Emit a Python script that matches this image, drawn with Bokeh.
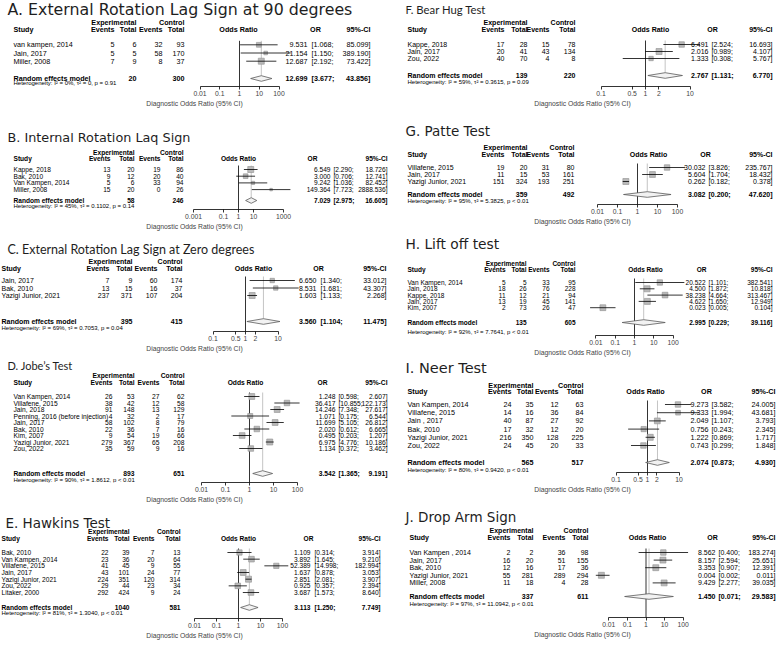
import math
from bokeh.plotting import figure
from bokeh.models import Range1d, LogScale, LogAxis, FixedTicker, CustomJSTickFormatter, ColumnDataSource
from bokeh.layouts import column, row
from bokeh.core.properties import value
from bokeh.embed import file_html
from bokeh.resources import INLINE

# ---------------- data ----------------
A_title = "A. External Rotation Lag Sign at 90 degrees"
A_study = ["van kampen, 2014", "Jain, 2017", "Miller, 2008"]
A_exp_ev = [5, 5, 7]
A_exp_n = [6, 5, 9]
A_ctl_ev = [32, 58, 8]
A_ctl_n = [93, 170, 37]
A_or = [9.531, 21.154, 12.687]
A_lo = [1.068, 1.150, 2.192]
A_hi = [85.099, 389.190, 73.422]
A_totals = [20, 300]
A_pooled = [12.699, 3.677, 43.856]
A_tau2 = 0.0
A_het = "Heterogeneity: I² = 0%, τ² = 0, p = 0.91"
A_ticks = [0.01, 0.1, 1, 10, 100]

B_title = "B. Internal Rotation Laq Sign"
B_study = ["Kappe, 2018", "Bak, 2010", "Van Kampen, 2014", "Miller, 2008"]
B_exp_ev = [13, 9, 5, 15]
B_exp_n = [20, 12, 6, 20]
B_ctl_ev = [19, 20, 33, 0]
B_ctl_n = [86, 40, 94, 26]
B_or = [6.549, 3.000, 9.242, 149.364]
B_lo = [2.290, 0.706, 1.036, 7.723]
B_hi = [18.726, 12.741, 82.452, 2888.536]
B_totals = [58, 246]
B_pooled = [7.029, 2.975, 16.605]
B_tau2 = 0.1102
B_het = "Heterogeneity: I² = 45%, τ² = 0.1102, p = 0.14"
B_ticks = [0.001, 0.1, 1, 10, 1000]

C_title = "C. External Rotation Lag Sign at Zero degrees"
C_study = ["Jain, 2017", "Bak, 2010", "Yazigi Junior, 2021"]
C_exp_ev = [7, 13, 237]
C_exp_n = [9, 15, 371]
C_ctl_ev = [60, 16, 107]
C_ctl_n = [174, 37, 204]
C_or = [6.650, 8.531, 1.603]
C_lo = [1.340, 1.681, 1.133]
C_hi = [33.012, 43.307, 2.268]
C_totals = [395, 415]
C_pooled = [3.560, 1.104, 11.475]
C_tau2 = 0.7053
C_het = "Heterogeneity: I² = 69%, τ² = 0.7053, p = 0.04"
C_ticks = [0.1, 0.5, 1, 2, 10]

D_title = "D. Jobe’s Test"
D_study = ["Van Kampen, 2014", "Villafene, 2015", "Jain, 2018", "Penning, 2016 (before injection)",
           "Jain, 2017", "Bak, 2010", "Kim, 2007", "Yazigi Junior, 2021", "Zou, 2022"]
D_exp_ev = [26, 38, 91, 4, 58, 22, 9, 279, 35]
D_exp_n = [53, 42, 148, 32, 102, 36, 54, 367, 59]
D_ctl_ev = [27, 12, 13, 2, 8, 7, 19, 65, 9]
D_ctl_n = [62, 58, 129, 17, 79, 16, 66, 208, 16]
D_or = [1.248, 36.417, 14.246, 1.071, 11.699, 2.020, 0.495, 6.975, 1.134]
D_lo = [0.598, 10.855, 7.348, 0.175, 5.105, 0.612, 0.203, 4.776, 0.372]
D_hi = [2.607, 122.173, 27.617, 6.544, 26.812, 6.665, 1.207, 10.186, 3.462]
D_totals = [893, 651]
D_pooled = [3.542, 1.365, 9.191]
D_tau2 = 1.8612
D_het = "Heterogeneity: I² = 90%, τ² = 1.8612, p < 0.01"
D_ticks = [0.01, 0.1, 1, 10, 100]

E_title = "E. Hawkins Test"
E_study = ["Bak, 2010", "Van Kampen, 2014", "Villafene, 2015", "Jain, 2017",
           "Yazigi Junior, 2021", "Zou, 2022", "Litaker, 2000"]
E_exp_ev = [22, 23, 41, 43, 224, 29, 292]
E_exp_n = [39, 36, 45, 101, 351, 44, 424]
E_ctl_ev = [7, 20, 9, 24, 120, 23, 9]
E_ctl_n = [13, 64, 55, 77, 314, 34, 24]
E_or = [1.109, 3.892, 52.389, 1.637, 2.851, 0.925, 3.687]
E_lo = [0.314, 1.645, 14.998, 0.878, 2.081, 0.357, 1.573]
E_hi = [3.914, 9.210, 182.994, 3.053, 3.907, 2.394, 8.640]
E_totals = [1040, 581]
E_pooled = [3.113, 1.250, 7.749]
E_tau2 = 1.3040
E_het = "Heterogeneity: I² = 81%, τ² = 1.3040, p < 0.01"
E_ticks = [0.01, 0.1, 1, 10, 100]

F_title = "F. Bear Hug Test"
F_study = ["Kappe, 2018", "Jain, 2017", "Zou, 2022"]
F_exp_ev = [17, 20, 40]
F_exp_n = [28, 41, 70]
F_ctl_ev = [15, 43, 4]
F_ctl_n = [78, 134, 8]
F_or = [6.491, 2.016, 1.333]
F_lo = [2.524, 0.989, 0.308]
F_hi = [16.693, 4.107, 5.767]
F_totals = [139, 220]
F_pooled = [2.767, 1.131, 6.770]
F_tau2 = 0.3615
F_het = "Heterogeneity: I² = 59%, τ² = 0.3615, p = 0.09"
F_ticks = [0.1, 0.5, 1, 2, 10]

G_title = "G. Patte Test"
G_study = ["Villafene, 2015", "Jain, 2017", "Yazigi Junior, 2021"]
G_exp_ev = [19, 11, 151]
G_exp_n = [20, 15, 324]
G_ctl_ev = [31, 53, 193]
G_ctl_n = [80, 161, 251]
G_or = [30.032, 5.604, 0.262]
G_lo = [3.826, 1.704, 0.182]
G_hi = [235.767, 18.432, 0.378]
G_totals = [359, 492]
G_pooled = [3.082, 0.200, 47.620]
G_tau2 = 5.3825
G_het = "Heterogeneity: I² = 95%, τ² = 5.3825, p < 0.01"
G_ticks = [0.01, 0.1, 1, 10, 100]

H_title = "H. Lift off test"
H_study = ["Van Kampen,  2014", "Jain, 2018", "Kappe, 2018", "Jain, 2017", "Kim, 2007"]
H_exp_ev = [5, 18, 11, 13, 2]
H_exp_n = [5, 26, 12, 19, 73]
H_ctl_ev = [33, 76, 21, 45, 26]
H_ctl_n = [95, 228, 94, 141, 47]
H_or = [20.522, 4.500, 38.238, 4.622, 0.023]
H_lo = [1.101, 1.872, 4.664, 1.650, 0.005]
H_hi = [382.541, 10.818, 313.467, 12.949, 0.104]
H_totals = [135, 605]
H_pooled = [2.995, 0.229, 39.116]
H_tau2 = 7.7641
H_het = "Heterogeneity: I² = 92%, τ² = 7.7641, p < 0.01"
H_ticks = [0.01, 0.1, 1, 10, 100]

I_title = "I. Neer Test"
I_study = ["Van Kampen, 2014", "Villafene,  2015", "Jain , 2017", "Bak, 2010", "Yazigi Junior, 2021", "Zou, 2022"]
I_exp_ev = [24, 14, 40, 17, 216, 24]
I_exp_n = [35, 16, 87, 32, 350, 45]
I_ctl_ev = [12, 36, 27, 12, 128, 20]
I_ctl_n = [63, 84, 92, 20, 225, 33]
I_or = [9.273, 9.333, 2.049, 0.756, 1.222, 0.743]
I_lo = [3.582, 1.994, 1.107, 0.243, 0.869, 0.299]
I_hi = [24.005, 43.681, 3.793, 2.345, 1.717, 1.848]
I_totals = [565, 517]
I_pooled = [2.074, 0.873, 4.930]
I_tau2 = 0.9420
I_het = "Heterogeneity: I² = 80%, τ² = 0.9420, p < 0.01"
I_ticks = [0.1, 0.5, 1, 2, 10]

J_title = "J. Drop Arm Sign"
J_study = ["Van Kampen , 2014", "Jain, 2017", "Bak, 2010", "Yazigi Junior, 2021", "Miller, 2008"]
J_exp_ev = [2, 16, 12, 55, 11]
J_exp_n = [2, 20, 16, 281, 18]
J_ctl_ev = [36, 51, 17, 289, 4]
J_ctl_n = [98, 155, 36, 294, 28]
J_or = [8.562, 8.157, 3.353, 0.004, 9.429]
J_lo = [0.400, 2.594, 0.907, 0.002, 2.277]
J_hi = [183.274, 25.651, 12.391, 0.011, 39.035]
J_totals = [337, 611]
J_pooled = [1.450, 0.071, 29.583]
J_tau2 = 11.0942
J_het = "Heterogeneity: I² = 97%, τ² = 11.0942, p < 0.01"
J_ticks = [0.01, 0.1, 1, 10, 100]

AXIS_LABEL = "Diagnostic Odds Ratio (95% CI)"

g = globals()
DATA = {}
for k in "ABCDEFGHIJ":
    DATA[k] = dict(title=g[k + "_title"], study=g[k + "_study"], ev=g[k + "_exp_ev"], n=g[k + "_exp_n"],
                   cev=g[k + "_ctl_ev"], cn=g[k + "_ctl_n"], orv=g[k + "_or"], lo=g[k + "_lo"],
                   hi=g[k + "_hi"], totals=g[k + "_totals"], pooled=g[k + "_pooled"],
                   tau2=g[k + "_tau2"], het=g[k + "_het"], ticks=g[k + "_ticks"])

# ---------------- layout (pixel units) ----------------
S = 1.0
AX_PX = 24
AX_REF = AX_PX / S
BODY = "Liberation Sans"
FS_HET = 6.0
BOX_MAX = 6.0

LAYOUT = {
    "A": dict(x0=0, W=388, tx=7, ty=8.5, tf="DejaVu Sans", ts=15.8, fs=7.2, h1=22, h2=29, r0=44.3, dr=8.2, summ=78, het=82, axis=86,
              study=13, ev=114, tot=136, cev=162, ctot=184, orc=238, orh=315, orr=307, cib=311, cir=370,
              x1=239, ppd=19.75),
    "B": dict(x0=0, W=388, tx=7, ty=136.5, tf="DejaVu Sans", ts=12.8, fs=6.6, h1=152, h2=158, r0=169, dr=6.7, summ=200, het=205.5, axis=209,
              study=13, ev=110, tot=134, cev=160, ctot=183, orc=238, orh=312, orr=330, cib=333, cir=387,
              x1=238, ppd=15),
    "C": dict(x0=0, W=388, tx=7, ty=249, tf="Lato", ts=12.5, fs=7.0, h1=261, h2=268, r0=280, dr=7.5, summ=321, het=327.5, axis=331,
              study=1, ev=109, tot=132, cev=157, ctot=182, orc=253, orh=318, orr=316, cib=320, cir=386,
              x1=245, ppd=32.5),
    "D": dict(x0=0, W=388, tx=7, ty=365, tf="Lato", ts=11, fs=6.7, h1=375, h2=382, r0=396, dr=6.5, summ=473, het=479, axis=482,
              study=13, ev=112, tot=134, cev=159, ctot=184, orc=245, orh=322, orr=335, cib=338, cir=387,
              x1=249, ppd=24),
    "E": dict(x0=0, W=388, tx=5, ty=522, tf="DejaVu Sans", ts=13.5, fs=6.6, h1=531, h2=538, r0=552, dr=6.67, summ=607, het=612, axis=618,
              study=1, ev=108, tot=129, cev=154, ctot=180, orc=238, orh=308, orr=310, cib=314, cir=380,
              x1=238, ppd=22),
    "F": dict(x0=388, W=388, tx=405, ty=8.5, tf="Lato", ts=11.3, fs=7.0, h1=22, h2=28.5, r0=44, dr=7, summ=75, het=81.5, axis=86,
              study=407, ev=504, tot=527, cev=549, ctot=575, orc=650, orh=712, orr=708, cib=711, cir=772,
              x1=645, ppd=44.5),
    "G": dict(x0=388, W=388, tx=405, ty=130, tf="DejaVu Sans", ts=13.5, fs=7.0, h1=147, h2=154, r0=167, dr=7, summ=194, het=200, axis=204,
              study=407, ev=504, tot=527, cev=549, ctot=574, orc=648, orh=705, orr=705, cib=708, cir=772,
              x1=637, ppd=20),
    "H": dict(x0=388, W=388, tx=405, ty=243, tf="DejaVu Sans", ts=13.8, fs=6.5, h1=263, h2=269, r0=282, dr=6.3, summ=322, het=331, axis=335,
              study=407, ev=505, tot=526, cev=549, ctot=575, orc=645, orh=701, orr=705, cib=708, cir=772,
              x1=634, ppd=19.3),
    "I": dict(x0=388, W=388, tx=405, ty=367.5, tf="DejaVu Sans", ts=14.5, fs=7.2, h1=385, h2=391, r0=404, dr=8.2, summ=462, het=469, axis=472,
              study=407, ev=511, tot=533, cev=558, ctot=583, orc=645, orh=706, orr=708, cib=711, cir=775,
              x1=647, ppd=31.5),
    "J": dict(x0=388, W=388, tx=405, ty=516, tf="DejaVu Sans", ts=13.5, fs=7.0, h1=530, h2=537, r0=552, dr=7.6, summ=596, het=603, axis=617,
              study=409, ev=510, tot=533, cev=565, ctot=588, orc=647, orh=712, orr=715, cib=718, cir=775,
              x1=645.5, ppd=18.6),
}


class TextBag:
    def __init__(self):
        self.groups = {}

    def add(self, x, y, s, align="left", style="normal", size=7.0, font=BODY, color="black"):
        key = (align, style, size, font, color)
        grp = self.groups.setdefault(key, {"x": [], "y": [], "text": []})
        grp["x"].append(x)
        grp["y"].append(y)
        grp["text"].append(s)

    def draw(self, p):
        for (align, style, size, font, color), grp in self.groups.items():
            p.text(x="x", y="y", text="text", source=ColumnDataSource(grp),
                   text_align=value(align), text_baseline=value("middle"),
                   text_font=value(font), text_font_size=value(f"{size}px"),
                   text_font_style=value(style), text_color=color)


def build(key, top):
    d, L = DATA[key], LAYOUT[key]
    x0, W, axis = L["x0"], L["W"], L["axis"]
    fs = L["fs"]
    p = figure(frame_width=round(W * S), frame_height=round((axis - top) * S),
               x_range=Range1d(x0, x0 + W), y_range=Range1d(axis, top),
               x_axis_location=None, y_axis_location=None,
               toolbar_location=None, output_backend="svg",
               min_border=0, min_border_bottom=AX_PX, outline_line_color=None,
               background_fill_color="white", border_fill_color="white")
    p.grid.visible = False
    lo_r = 10 ** ((x0 - L["x1"]) / L["ppd"])
    hi_r = 10 ** ((x0 + W - L["x1"]) / L["ppd"])
    p.extra_x_ranges = {"or": Range1d(lo_r, hi_r)}
    p.extra_x_scales = {"or": LogScale()}

    ticks = d["ticks"]
    ax = LogAxis(x_range_name="or", ticker=FixedTicker(ticks=ticks, minor_ticks=[]),
                 bounds=(ticks[0], ticks[-1]),
                 formatter=CustomJSTickFormatter(code="return String(tick)"),
                 axis_label=AXIS_LABEL)
    ax.axis_line_width = 0.8
    ax.major_tick_line_width = 0.8
    ax.major_tick_in = 0
    ax.major_tick_out = 3
    ax.minor_tick_out = 0
    ax.minor_tick_in = 0
    ax.major_label_standoff = 1
    ax.major_label_text_font = BODY
    ax.major_label_text_font_size = "6.8px"
    ax.axis_label_standoff = 1
    ax.axis_label_text_font = BODY
    ax.axis_label_text_font_size = "6.8px"
    ax.axis_label_text_font_style = "normal"
    p.add_layout(ax, "below")

    n = len(d["study"])
    ys = [L["r0"] + i * L["dr"] for i in range(n)]
    summ = L["summ"]
    est, plo, phi = d["pooled"]

    # reference lines
    p.segment(x0=[1], y0=[L["r0"] - 4], x1=[1], y1=[axis], x_range_name="or",
              line_color="black", line_width=0.8)
    p.segment(x0=[est], y0=[L["r0"] - 4], x1=[est], y1=[summ - 2.8], x_range_name="or",
              line_color="#c4c4c4", line_width=1)

    # study boxes sized by random-effects weight
    w = []
    for lo, hi in zip(d["lo"], d["hi"]):
        se = (math.log(hi) - math.log(lo)) / 3.92
        w.append(1.0 / (se * se + d["tau2"]))
    wmax = max(w)
    sizes = [max(2.5, BOX_MAX * math.sqrt(wi / wmax)) for wi in w]
    p.scatter(x=d["orv"], y=ys, size=sizes, marker="square", x_range_name="or",
              fill_color="#b9b9b9", line_color="#909090", line_width=0.6)
    p.segment(x0=d["lo"], y0=ys, x1=d["hi"], y1=ys, x_range_name="or",
              line_color="black", line_width=0.8)

    # pooled diamond
    h = 2.8
    p.patch(x=[plo, est, phi, est], y=[summ, summ - h, summ, summ + h], x_range_name="or",
            fill_color="#f2f2f2", line_color="#5a5a5a", line_width=0.8)

    t = TextBag()
    t.add(L["tx"], L["ty"], d["title"], size=L["ts"], font=L["tf"], color="#1e1e1e")
    t.add(L["tot"], L["h1"], "Experimental", "right", "bold", fs)
    t.add(L["ctot"], L["h1"], "Control", "right", "bold", fs)
    t.add(L["study"], L["h2"], "Study", "left", "bold", fs)
    t.add(L["ev"], L["h2"], "Events", "right", "bold", fs)
    t.add(L["tot"], L["h2"], "Total", "right", "bold", fs)
    t.add(L["cev"], L["h2"], "Events", "right", "bold", fs)
    t.add(L["ctot"], L["h2"], "Total", "right", "bold", fs)
    t.add(L["orc"], L["h2"], "Odds Ratio", "center", "bold", fs)
    t.add(L["orh"], L["h2"], "OR", "center", "bold", fs)
    t.add(L["cir"], L["h2"], "95%-CI", "right", "bold", fs)
    for i in range(n):
        y = ys[i]
        t.add(L["study"], y, d["study"][i], "left", "normal", fs)
        t.add(L["ev"], y, str(d["ev"][i]), "right", "normal", fs)
        t.add(L["tot"], y, str(d["n"][i]), "right", "normal", fs)
        t.add(L["cev"], y, str(d["cev"][i]), "right", "normal", fs)
        t.add(L["ctot"], y, str(d["cn"][i]), "right", "normal", fs)
        t.add(L["orr"], y, f"{d['orv'][i]:.3f}", "right", "normal", fs)
        t.add(L["cib"], y, f"[{d['lo'][i]:.3f};", "left", "normal", fs)
        t.add(L["cir"], y, f"{d['hi'][i]:.3f}]", "right", "normal", fs)
    t.add(L["study"], summ, "Random effects model", "left", "bold", fs)
    t.add(L["tot"], summ, str(d["totals"][0]), "right", "bold", fs)
    t.add(L["ctot"], summ, str(d["totals"][1]), "right", "bold", fs)
    t.add(L["orr"], summ, f"{est:.3f}", "right", "bold", fs)
    t.add(L["cib"], summ, f"[{plo:.3f};", "left", "bold", fs)
    t.add(L["cir"], summ, f"{phi:.3f}]", "right", "bold", fs)
    t.add(L["study"], L["het"], d["het"], size=FS_HET)
    t.draw(p)
    return p


def build_column(keys):
    figs = []
    top = 0.0
    for k in keys:
        figs.append(build(k, top))
        top = LAYOUT[k]["axis"] + AX_REF
    return column(*figs, spacing=0)


layout = row(build_column("ABCDE"), build_column("FGHIJ"), spacing=0)

open("out.html", "w").write(file_html(layout, INLINE))
